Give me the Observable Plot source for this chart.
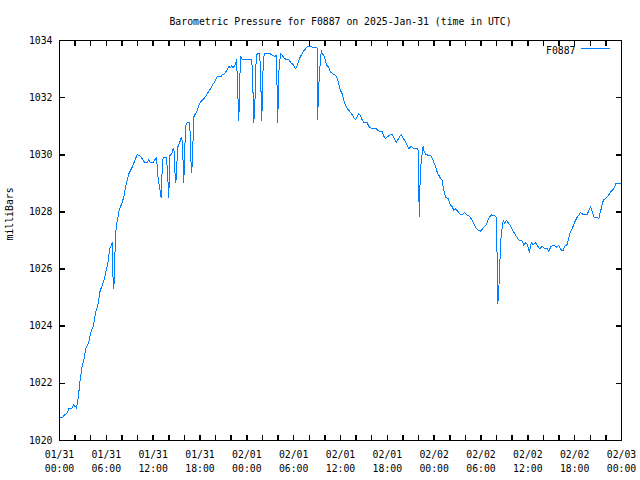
<!DOCTYPE html>
<html><head><meta charset="utf-8">
<script src="https://cdn.jsdelivr.net/npm/d3@7"></script>
<script src="https://cdn.jsdelivr.net/npm/@observablehq/plot@0.6"></script>
<style>html,body{margin:0;padding:0;background:#fff}svg{display:block}</style>
</head><body><div id="chart"></div>
<script>
const chartTitle = "Barometric Pressure for F0887 on 2025-Jan-31 (time in UTC)";
const yAxisLabel = "milliBars";
const seriesName = "F0887";
const startTime = "2025-01-31T00:00:00Z";
const endTime = "2025-02-03T00:00:00Z";
// [hours since 2025-01-31 00:00 UTC, pressure in mbar]
const readings = [
[0.13,1020.79],[0.42,1020.79],[0.55,1020.88],[0.90,1020.93],[1.11,1021.05],[1.19,1021.11],[1.54,1021.11],[1.70,1021.19],
[1.83,1021.26],[1.96,1021.20],[2.14,1021.20],[2.18,1021.11],[2.34,1021.40],[2.47,1021.67],[2.60,1022.01],[2.78,1022.39],
[2.91,1022.63],[3.07,1022.74],[3.20,1022.92],[3.33,1023.21],[3.55,1023.33],[3.75,1023.44],[3.88,1023.62],[4.01,1023.79],
[4.19,1023.91],[4.36,1024.03],[4.52,1024.32],[4.70,1024.55],[4.87,1024.67],[5.03,1024.90],[5.16,1025.19],[5.38,1025.37],
[5.55,1025.48],[5.73,1025.66],[5.89,1025.83],[6.02,1026.01],[6.19,1026.18],[6.32,1026.48],[6.44,1026.71],[6.62,1026.83],
[6.75,1026.92],[6.83,1025.83],[6.96,1025.31],[7.05,1025.85],[7.14,1026.90],[7.26,1027.47],[7.60,1028.00],[7.81,1028.17],
[8.03,1028.34],[8.24,1028.52],[8.46,1028.87],[8.67,1029.10],[8.88,1029.33],[9.10,1029.45],[9.31,1029.57],[9.65,1029.80],
[9.95,1030.00],[10.16,1029.98],[10.42,1029.94],[10.59,1029.86],[10.93,1029.72],[11.23,1029.72],[11.44,1029.82],[11.66,1029.72],
[11.95,1029.72],[12.17,1029.80],[12.43,1029.92],[12.59,1029.28],[12.81,1028.87],[13.03,1028.49],[13.16,1029.57],[13.28,1029.92],
[13.71,1029.92],[13.87,1029.22],[14.00,1028.49],[14.13,1029.98],[14.35,1030.01],[14.57,1030.21],[14.67,1030.12],[14.77,1029.45],
[14.90,1029.01],[14.99,1029.42],[15.15,1030.27],[15.41,1030.44],[15.63,1030.62],[15.76,1030.44],[15.85,1029.57],[15.92,1029.01],
[16.05,1030.22],[16.18,1031.02],[16.36,1031.14],[16.69,1031.14],[16.82,1029.86],[16.95,1029.39],[17.08,1030.27],[17.20,1031.32],
[17.42,1031.44],[17.64,1031.55],[17.85,1031.73],[18.06,1031.84],[18.28,1031.90],[18.49,1031.96],[18.70,1032.04],[18.92,1032.13],
[19.13,1032.22],[19.34,1032.31],[19.56,1032.43],[19.77,1032.51],[19.98,1032.60],[20.20,1032.74],[20.71,1032.74],[20.88,1032.81],
[21.05,1032.83],[21.27,1032.89],[21.48,1032.97],[21.69,1033.09],[21.91,1033.04],[22.03,1033.12],[22.25,1033.04],[22.55,1033.18],
[22.67,1033.33],[22.76,1032.83],[22.89,1031.78],[22.97,1031.20],[23.03,1031.80],[23.12,1032.83],[23.23,1033.44],[23.41,1033.32],
[24.60,1033.32],[24.69,1033.09],[24.81,1032.02],[24.89,1031.11],[25.02,1031.67],[25.20,1033.42],[25.33,1033.53],[25.66,1033.53],
[25.79,1032.48],[25.92,1031.20],[26.05,1032.85],[26.22,1033.53],[27.03,1033.53],[27.25,1033.48],[27.58,1033.44],[27.74,1033.48],
[27.84,1032.83],[27.96,1031.11],[28.09,1032.85],[28.31,1033.53],[28.53,1033.48],[28.86,1033.36],[29.37,1033.32],[29.59,1033.24],
[30.02,1033.13],[30.23,1033.01],[30.45,1033.13],[30.66,1033.30],[30.87,1033.44],[31.17,1033.59],[31.51,1033.71],[31.73,1033.79],
[32.28,1033.79],[32.45,1033.74],[33.01,1033.74],[33.05,1032.60],[33.08,1031.22],[33.16,1032.15],[33.31,1032.85],[33.44,1033.36],
[33.56,1033.65],[33.65,1033.53],[33.86,1033.48],[34.08,1033.30],[34.21,1033.13],[34.50,1033.07],[34.72,1032.89],[35.06,1032.83],
[35.36,1032.78],[35.58,1032.66],[35.78,1032.48],[36.00,1032.25],[36.22,1032.13],[36.42,1031.90],[36.64,1031.73],[36.86,1031.61],
[37.28,1031.49],[37.63,1031.34],[37.92,1031.22],[38.14,1031.34],[38.34,1031.43],[38.56,1031.38],[38.78,1031.22],[38.98,1031.14],
[39.42,1031.14],[39.62,1030.99],[40.06,1030.91],[40.61,1030.91],[40.90,1030.83],[41.38,1030.83],[41.47,1030.68],[41.76,1030.56],
[41.98,1030.62],[42.40,1030.71],[42.62,1030.71],[42.79,1030.61],[43.17,1030.44],[43.43,1030.57],[43.77,1030.71],[44.07,1030.57],
[44.54,1030.33],[44.75,1030.21],[45.06,1030.30],[45.39,1030.21],[45.90,1030.21],[45.99,1030.08],[46.08,1027.82],[46.16,1028.75],
[46.25,1029.38],[46.34,1029.80],[46.46,1030.03],[46.59,1030.30],[46.67,1030.15],[46.89,1030.01],[47.31,1029.98],[47.53,1029.98],
[47.87,1029.80],[48.17,1029.59],[48.39,1029.39],[48.72,1029.22],[49.03,1029.10],[49.23,1028.75],[49.45,1028.52],[49.80,1028.46],
[50.09,1028.23],[50.31,1028.19],[50.51,1028.05],[50.73,1028.11],[51.03,1028.02],[51.37,1027.90],[51.72,1027.93],[51.88,1027.98],
[52.14,1027.90],[52.43,1027.88],[52.87,1027.72],[53.29,1027.47],[53.59,1027.37],[53.93,1027.32],[54.36,1027.47],[54.70,1027.56],
[54.99,1027.78],[55.34,1027.90],[55.64,1027.88],[55.98,1027.82],[56.07,1026.30],[56.15,1024.78],[56.28,1025.25],[56.41,1026.20],
[56.58,1027.18],[56.84,1027.70],[57.01,1027.60],[57.27,1027.70],[57.56,1027.60],[57.87,1027.47],[58.20,1027.29],[58.55,1027.14],
[58.84,1027.02],[59.27,1026.98],[59.48,1026.83],[59.70,1026.92],[59.91,1026.88],[60.21,1026.59],[60.43,1026.92],[60.68,1026.86],
[60.98,1026.92],[61.20,1026.83],[61.53,1026.71],[61.84,1026.80],[62.13,1026.71],[62.48,1026.71],[62.68,1026.63],[62.99,1026.80],
[63.32,1026.83],[63.67,1026.77],[63.96,1026.83],[64.18,1026.71],[64.48,1026.63],[64.73,1026.80],[65.04,1026.86],[65.21,1027.07],
[65.37,1027.23],[65.68,1027.41],[65.89,1027.56],[66.10,1027.70],[66.32,1027.82],[66.53,1027.88],[66.74,1027.99],[67.09,1027.90],
[67.60,1027.90],[67.81,1028.05],[68.03,1028.19],[68.25,1028.02],[68.45,1027.82],[68.80,1027.82],[69.09,1027.76],[69.24,1027.95],
[69.40,1028.11],[69.56,1028.33],[69.73,1028.42],[70.17,1028.52],[70.37,1028.60],[70.59,1028.69],[71.01,1028.81],[71.16,1028.89],
[71.32,1029.01],[71.78,1029.01],[72.00,1029.01]
];
const yTicks = [1020, 1022, 1024, 1026, 1028, 1030, 1032, 1034];
const xLabelHours = [0, 6, 12, 18, 24, 30, 36, 42, 48, 54, 60, 66, 72];
const xTickLabels = ["01/31\n00:00","01/31\n06:00","01/31\n12:00","01/31\n18:00","02/01\n00:00","02/01\n06:00",
  "02/01\n12:00","02/01\n18:00","02/02\n00:00","02/02\n06:00","02/02\n12:00","02/02\n18:00","02/03\n00:00"];
const minorTickStepHours = 2;

const t0 = new Date(startTime).getTime();
const toDate = h => new Date(t0 + h * 3600e3);
const data = readings.map(([h, p]) => ({time: toDate(h), mbar: p}));
const labelData = xLabelHours.map((h, i) => ({time: toDate(h), label: xTickLabels[i]}));
const xTickDates = d3.utcHour.every(minorTickStepHours).range(new Date(startTime), new Date(new Date(endTime).getTime() + 1));

const FONT = "DejaVu Sans Mono";
const FS = 9.8;
const lineShape = {draw(ctx, l) { ctx.moveTo(0, 0); ctx.lineTo(0, -l); }};
const TL = 5;

const chart = Plot.plot({
  width: 640, height: 480,
  marginLeft: 59, marginRight: 19, marginTop: 40, marginBottom: 40,
  style: {fontFamily: FONT, fontSize: FS + "px", background: "white", overflow: "visible"},
  x: {type: "utc", domain: [new Date(startTime), new Date(endTime)], axis: null},
  y: {domain: [1020, 1034], axis: null},
  marks: [
    Plot.line(data, {x: "time", y: "mbar", stroke: "#0080ff", strokeWidth: 1, curve: "linear", shapeRendering: "crispEdges"}),
    Plot.frame({stroke: "black", strokeWidth: 1, shapeRendering: "crispEdges"}),
    Plot.vector(xTickDates, {x: d => d, frameAnchor: "bottom", length: TL, rotate: 0, anchor: "start", shape: lineShape, stroke: "black", shapeRendering: "crispEdges"}),
    Plot.vector(xTickDates, {x: d => d, frameAnchor: "top", length: TL, rotate: 180, anchor: "start", shape: lineShape, stroke: "black", shapeRendering: "crispEdges"}),
    Plot.vector(yTicks, {y: d => d, frameAnchor: "left", length: TL, rotate: 90, anchor: "start", shape: lineShape, stroke: "black", shapeRendering: "crispEdges"}),
    Plot.vector(yTicks, {y: d => d, frameAnchor: "right", length: TL, rotate: 270, anchor: "start", shape: lineShape, stroke: "black", shapeRendering: "crispEdges"}),
    Plot.text(yTicks, {y: d => d, text: d => String(d), frameAnchor: "left", textAnchor: "end", dx: -7, fill: "black", fontFamily: FONT, fontSize: FS}),
    Plot.text(labelData, {x: "time", text: "label", frameAnchor: "bottom", lineAnchor: "top", lineHeight: 1.43, dy: 8, fill: "black", fontFamily: FONT, fontSize: FS}),
    Plot.text([chartTitle], {text: d => d, frameAnchor: "top", dy: -22, fill: "black", fontFamily: FONT, fontSize: FS}),
    Plot.text([yAxisLabel], {text: d => d, frameAnchor: "left", dx: -50, rotate: -90, fill: "black", fontFamily: FONT, fontSize: FS}),
    Plot.text([seriesName], {text: d => d, frameAnchor: "top-right", textAnchor: "end", dx: -46, dy: 7, fill: "black", fontFamily: FONT, fontSize: FS}),
    Plot.vector([seriesName], {frameAnchor: "top-right", dx: -40, dy: 8, length: 28, rotate: 90, anchor: "start", shape: lineShape, stroke: "#0080ff", shapeRendering: "crispEdges"})
  ]
});
document.getElementById("chart").appendChild(chart);
</script>
</body></html>
